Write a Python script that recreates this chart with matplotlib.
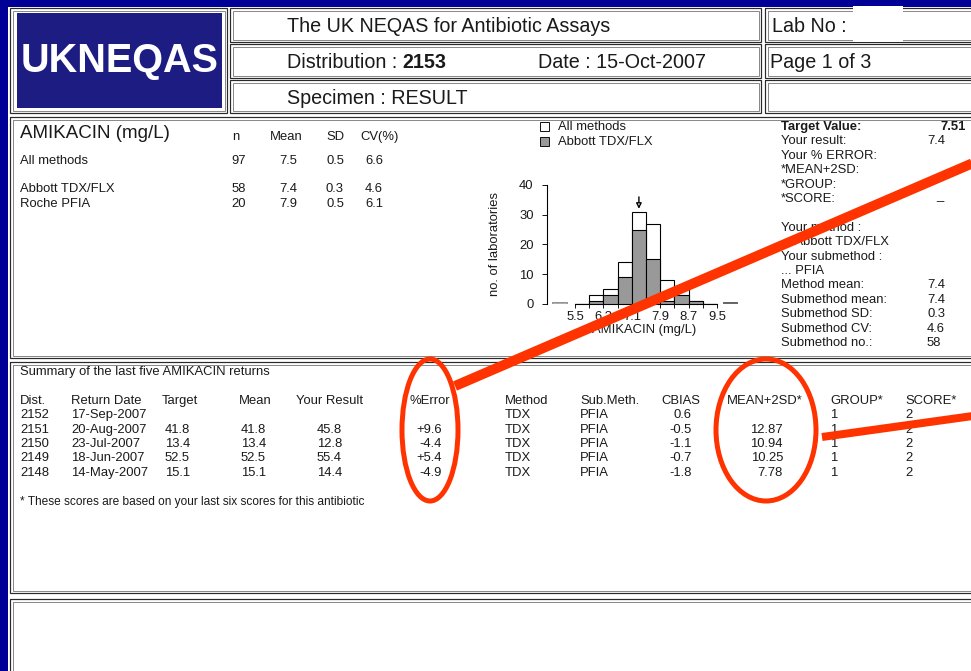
import matplotlib
matplotlib.use("Agg")
import matplotlib.pyplot as plt
from matplotlib.patches import Rectangle, Ellipse
from matplotlib import font_manager as fm
import numpy as np

# ---------------- data ----------------
header_title = "The UK NEQAS for Antibiotic Assays"
distribution = "2153"
report_date = "15-Oct-2007"
specimen = "RESULT"
page_text = "Page 1 of 3"
lab_label = "Lab No :"
drug_title = "AMIKACIN (mg/L)"

stat_cols = ["n", "Mean", "SD", "CV(%)"]
stat_groups = ["All methods", "Abbott TDX/FLX", "Roche PFIA"]
stat_n = ["97", "58", "20"]
stat_mean = ["7.5", "7.4", "7.9"]
stat_sd = ["0.5", "0.3", "0.5"]
stat_cv = ["6.6", "4.6", "6.1"]

legend_labels = ["All methods", "Abbott TDX/FLX"]
bin_edges = [5.5, 5.9, 6.3, 6.7, 7.1, 7.5, 7.9, 8.3, 8.7, 9.1, 9.5]
all_counts = [0, 3, 5, 14, 31, 27, 8, 6, 1, 0]
abbott_counts = [0, 1, 3, 9, 25, 15, 1, 3, 1, 0]
low_outliers = 1
high_outliers = 1
y_ticks = [0, 10, 20, 30, 40]
hist_xlabel = "AMIKACIN (mg/L)"
hist_ylabel = "no. of laboratories"
your_result = 7.4

panel_labels = ["Target Value:", "Your result:", "Your % ERROR:", "*MEAN+2SD:",
                "*GROUP:", "*SCORE:", "", "Your method :", "... Abbott TDX/FLX",
                "Your submethod :", "... PFIA", "Method mean:", "Submethod mean:",
                "Submethod SD:", "Submethod CV:", "Submethod no.:"]
panel_values = ["7.51", "7.4", "", "", "", "_", "", "", "", "", "",
                "7.4", "7.4", "0.3", "4.6", "58"]

summary_title = "Summary of the last five AMIKACIN returns"
sum_headers = ["Dist.", "Return Date", "Target", "Mean", "Your Result", "%Error",
               "Method", "Sub.Meth.", "CBIAS", "MEAN+2SD*", "GROUP*", "SCORE*"]
sum_dist = ["2152", "2151", "2150", "2149", "2148"]
sum_dates = ["17-Sep-2007", "20-Aug-2007", "23-Jul-2007", "18-Jun-2007", "14-May-2007"]
sum_target = ["", "41.8", "13.4", "52.5", "15.1"]
sum_mean = ["", "41.8", "13.4", "52.5", "15.1"]
sum_result = ["", "45.8", "12.8", "55.4", "14.4"]
sum_error = ["", "+9.6", "-4.4", "+5.4", "-4.9"]
sum_method = ["TDX", "TDX", "TDX", "TDX", "TDX"]
sum_submethod = ["PFIA", "PFIA", "PFIA", "PFIA", "PFIA"]
sum_cbias = ["0.6", "-0.5", "-1.1", "-0.7", "-1.8"]
sum_mean2sd = ["", "12.87", "10.94", "10.25", "7.78"]
sum_group = ["1", "1", "1", "1", "1"]
sum_score = ["2", "2", "2", "2", "2"]
footnote = "* These scores are based on your last six scores for this antibiotic"

# ---------------- style ----------------
plt.rcParams['font.family'] = ['Liberation Sans', 'DejaVu Sans']
W, H = 971, 671
SLIDE_BLUE = "#000096"
LOGO_BLUE = "#1c1c82"
RED = "#ff3300"
TXT = "#1a1a1a"
SMALL = 9.4
BIG = 14.2
PX = 0.72  # points per pixel


def has_font(name):
    try:
        fm.findfont(fm.FontProperties(family=name), fallback_to_default=False)
        return True
    except Exception:
        return False


fig = plt.figure(figsize=(W / 100, H / 100), dpi=100)
fig.patch.set_facecolor(SLIDE_BLUE)

ax = fig.add_axes([0, 0, 1, 1])
ax.set_xlim(0, W)
ax.set_ylim(H, 0)
ax.axis('off')

# white page
ax.add_patch(Rectangle((8, 7), W, H, facecolor='white', edgecolor='none', zorder=0))


def box(x0, y0, x1, y1):
    ax.add_patch(Rectangle((x0, y0), x1 - x0, y1 - y0, fill=False,
                           edgecolor='#2a2a2a', lw=1.2 * PX, zorder=2))
    ax.add_patch(Rectangle((x0 + 2.5, y0 + 2.5), x1 - x0 - 5, y1 - y0 - 5, fill=False,
                           edgecolor='#8a8a8a', lw=1.0 * PX, zorder=2))


def t(x, y, s, size=SMALL, ha='left', weight='normal', **kw):
    ax.text(x, y, s, fontsize=size, ha=ha, va='center', color=TXT,
            fontweight=weight, zorder=5, **kw)


# header boxes
box(10, 8, 227, 113)
for y0, y1 in [(8, 42), (44, 78), (80, 113)]:
    box(230, y0, 761, y1)
    box(765, y0, 990, y1)
box(10, 117, 990, 358)
box(10, 362, 990, 593)
box(10, 599, 990, 700)

# logo
ax.add_patch(Rectangle((17, 13), 205, 95, facecolor=LOGO_BLUE, edgecolor='none', zorder=3))
logo_font = 'Liberation Sans Narrow' if has_font('Liberation Sans Narrow') else 'Liberation Sans'
logo = ax.text(119.5, 61, "UKNEQAS", fontsize=40, ha='center', va='center', color='white',
               fontweight='bold', family=[logo_font, 'DejaVu Sans'], zorder=4)
r = fig.canvas.get_renderer()
bb = logo.get_window_extent(renderer=r)
logo.set_fontsize(40 * 198 / bb.width)

# header texts
t(287, 26, header_title, size=BIG)
ax.text(287, 62, "Distribution : ", fontsize=BIG, ha='left', va='center', color=TXT, zorder=5)
tmp = ax.text(287, 62, "Distribution : ", fontsize=BIG, ha='left', va='center', alpha=0)
bbd = tmp.get_window_extent(renderer=r)
t(287 + bbd.width, 62, distribution, size=BIG, weight='bold')
t(538, 62, "Date : " + report_date, size=BIG)
t(287, 98, "Specimen : " + specimen, size=BIG)
t(772, 26, lab_label, size=BIG)
t(770, 62, page_text, size=BIG)
ax.add_patch(Rectangle((853, 6), 50, 36, facecolor='white', edgecolor='none', zorder=6))

# stats table
t(20, 134, drug_title, size=13.5)
col_right = [246, 297, 344, 383]
col_head_x = [232, 270, 326, 360]
for x, s in zip(col_head_x, stat_cols):
    t(x, 137, s)
for y, g, n, m, sd, cv in zip([161, 189, 204], stat_groups, stat_n, stat_mean, stat_sd, stat_cv):
    t(20, y, g)
    for x, v in zip(col_right, [n, m, sd, cv]):
        t(x, y, v, ha='right')

# legend
ax.add_patch(Rectangle((540, 122), 9, 9, facecolor='white', edgecolor='black', lw=0.9 * PX, zorder=4))
ax.add_patch(Rectangle((540, 137), 9, 9, facecolor='#999999', edgecolor='black', lw=0.9 * PX, zorder=4))
t(558, 127, legend_labels[0])
t(558, 142, legend_labels[1])

# right panel
for i, (lab, val) in enumerate(zip(panel_labels, panel_values)):
    y = 127 + i * 14.4
    if i == 0:
        t(781, y, lab, weight='bold')
        t(966, y, val, weight='bold', ha='right')
    else:
        t(781, y, lab)
        if val == "_":
            t(936, y - 3, val)
        elif val:
            t(927, y, val)

# summary table
t(20, 372, summary_title)
head_x = [20, 71, 162, 239, 296, 410, 505, 580, 661, 727, 830, 905]
for x, s in zip(head_x, sum_headers):
    t(x, 401, s)
row_y = [415, 430, 444, 458, 473]
for i, y in enumerate(row_y):
    t(20, y, sum_dist[i])
    t(71, y, sum_dates[i])
    t(165, y, sum_target[i])
    t(241, y, sum_mean[i])
    t(342, y, sum_result[i], ha='right')
    t(442, y, sum_error[i], ha='right')
    t(505, y, sum_method[i])
    t(580, y, sum_submethod[i])
    t(692, y, sum_cbias[i], ha='right')
    t(783, y, sum_mean2sd[i], ha='right')
    t(830, y, sum_group[i])
    t(905, y, sum_score[i])
t(20, 502, footnote, size=8.6)

# ---------------- histogram ----------------
px_per_unit = 35.5
x0_px, y0_px = 547, 304
xmin = 5.5 - (575 - x0_px) / px_per_unit
xmax = xmin + 195 / px_per_unit
hax = fig.add_axes([x0_px / W, (H - y0_px) / H, 195 / W, 119 / H])
hax.patch.set_alpha(0)
hax.set_xlim(xmin, xmax)
hax.set_ylim(0, 40)
edges = np.array(bin_edges)
widths = np.diff(edges)
hax.bar(edges[:-1], all_counts, width=widths, align='edge', facecolor='white',
        edgecolor='black', lw=1.1 * PX, zorder=2)
hax.bar(edges[:-1], abbott_counts, width=widths, align='edge', facecolor='#999999',
        edgecolor='black', lw=1.1 * PX, zorder=3)
hax.bar(edges[0] - 0.23 - 0.42, low_outliers * 0.8, width=0.42, align='edge',
        facecolor='#b0b0b0', edgecolor='#808080', lw=0.8 * PX, zorder=3)
hax.bar(edges[-1] + 0.17, high_outliers * 0.8, width=0.4, align='edge',
        facecolor='#6a6a6a', edgecolor='#505050', lw=0.8 * PX, zorder=3)
for s in ['top', 'right']:
    hax.spines[s].set_visible(False)
hax.spines['bottom'].set_bounds(edges[0], edges[-1])
hax.spines['left'].set_bounds(0, 40)
for s in ['bottom', 'left']:
    hax.spines[s].set_linewidth(1.1 * PX)
hax.set_yticks(y_ticks)
hax.set_xticks(edges)
hax.set_xticklabels([f"{e:.1f}" if i % 2 == 0 else "" for i, e in enumerate(edges)])
hax.tick_params(axis='x', direction='out', length=4 * PX, width=1.0 * PX,
                labelsize=SMALL, colors=TXT, pad=2)
hax.tick_params(axis='y', direction='out', length=5 * PX, width=1.0 * PX,
                labelsize=SMALL, colors=TXT, pad=6)
hax.set_xlabel(hist_xlabel, fontsize=SMALL, color=TXT, labelpad=1)
hax.set_ylabel(hist_ylabel, fontsize=SMALL, color=TXT, labelpad=13)
bi = np.searchsorted(edges, your_result) - 1
xc = (edges[bi] + edges[bi + 1]) / 2
hax.annotate("", xy=(xc, 32), xytext=(xc, 36),
             arrowprops=dict(arrowstyle='-|>', fc='white', ec='black', lw=1.0,
                             mutation_scale=8, shrinkA=0, shrinkB=0))

# ---------------- red markup on top ----------------
top = fig.add_axes([0, 0, 1, 1], zorder=10)
top.set_xlim(0, W)
top.set_ylim(H, 0)
top.axis('off')
top.patch.set_alpha(0)
top.plot([455, 980], [386, 160], color=RED, lw=10 * PX, solid_capstyle='butt')
top.plot([822, 980], [437, 415], color=RED, lw=8 * PX, solid_capstyle='butt')
top.add_patch(Ellipse((430, 430), 56, 142, fill=False, edgecolor=RED, lw=5 * PX))
top.add_patch(Ellipse((766, 430), 100, 142, fill=False, edgecolor=RED, lw=5 * PX))

fig.savefig("out.png", dpi=100, facecolor=fig.get_facecolor())
